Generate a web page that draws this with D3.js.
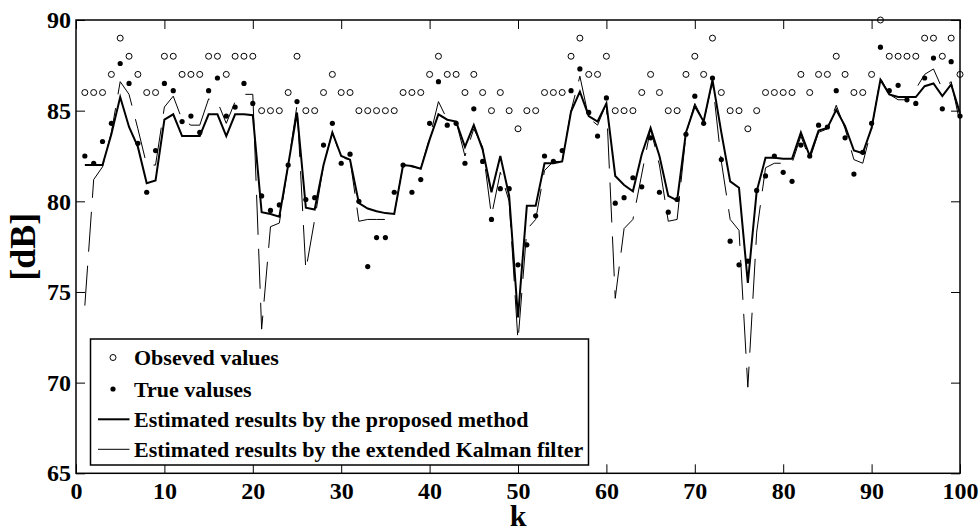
<!DOCTYPE html>
<html>
<head>
<meta charset="utf-8">
<script src="https://cdn.jsdelivr.net/npm/d3@7"></script>
<style>
  body { margin: 0; background: #fff; }
  text { font-family: "Liberation Serif", "Times New Roman", serif; font-weight: bold; }
</style>
</head>
<body>
<div id="chart"></div>
<script>
// chart data (k = 1..100)
var observed = [
  86,86,86,87,89,88,87,86,86,88,
  88,87,87,87,88,88,87,88,88,88,
  85,85,85,86,88,85,85,86,87,86,
  86,85,85,85,85,85,86,86,86,87,
  88,87,87,86,87,86,85,86,85,84,
  85,85,86,86,86,88,89,87,87,88,
  85,85,85,86,87,86,85,85,87,88,
  87,89,86,85,85,84,85,86,86,86,
  86,87,86,87,87,88,87,86,86,87,
  90,88,88,88,88,89,89,88,89,87];

var truth = [
  82.5,82.1,83.3,84.3,87.6,86.5,83.2,80.5,82.8,86.5,
  86.1,84.4,84.7,83.8,86.1,86.8,84.7,85.2,86.5,85.4,
  80.3,79.5,79.8,82.0,85.5,80.1,80.2,83.1,84.3,82.1,
  82.6,80.0,76.4,78.0,78.0,80.5,82.0,80.5,81.2,84.3,
  86.6,84.2,84.3,82.1,85.1,82.2,79.0,80.7,80.7,76.5,
  77.6,79.2,82.5,82.2,82.8,86.1,87.3,84.9,83.6,85.7,
  79.9,80.2,81.3,80.8,83.5,80.5,79.4,80.1,83.7,85.8,
  84.3,86.8,82.3,77.8,76.5,76.7,80.6,81.4,82.5,81.6,
  81.1,83.1,82.5,84.2,84.1,86.1,83.5,81.5,82.7,84.3,
  88.5,86.1,86.4,85.6,85.4,86.8,87.9,85.1,87.7,84.7];

var proposed = [
  82.0,82.0,82.0,83.7,85.75,84.1,83.0,81.0,81.15,84.5,
  84.8,83.6,83.6,83.6,84.8,84.8,83.6,84.8,84.8,84.75,
  79.4,79.3,79.15,82.0,84.9,79.65,79.55,82.0,83.8,82.5,
  82.3,79.9,79.6,79.45,79.35,79.3,82.0,81.95,81.8,83.4,
  84.8,84.5,84.4,83.0,84.2,82.85,80.5,82.5,80.3,73.6,
  79.75,79.75,82.1,82.1,82.2,84.95,86.05,84.7,84.4,85.4,
  81.4,80.9,80.55,82.6,84.05,82.5,80.3,80.05,83.8,85.25,
  84.4,86.7,83.8,81.1,80.75,75.5,80.55,82.4,82.4,82.35,
  82.35,83.8,82.5,83.9,84.05,85.05,84.15,82.8,82.65,84.05,
  86.7,85.9,85.75,85.75,85.75,86.35,86.5,85.8,86.45,84.85];

var ekf = [
  74.25,81.2,81.9,83.8,86.6,85.9,84.0,82.0,82.0,85.2,
  85.8,84.5,84.2,84.2,85.65,85.5,84.3,85.5,85.9,85.9,
  72.95,78.6,78.8,82.0,85.3,76.2,79.0,82.0,83.8,82.4,
  82.3,78.9,79.0,79.0,79.0,79.3,82.0,81.9,81.8,83.5,
  85.5,84.5,84.4,82.5,84.0,83.0,79.2,81.6,80.0,72.3,
  78.45,79.0,81.7,82.2,82.2,85.0,86.9,84.6,84.2,85.4,
  74.65,78.5,79.0,81.5,84.0,82.0,78.9,79.0,83.7,85.4,
  84.4,86.6,82.2,79.0,78.4,69.75,78.3,81.85,82.1,82.1,
  82.1,83.6,82.3,83.8,84.0,85.3,84.0,82.3,82.1,84.0,
  86.8,85.9,85.6,85.6,86.2,87.0,87.3,86.2,86.6,84.3];

var xTicks = [0,10,20,30,40,50,60,70,80,90,100];
var yTicks = [65,70,75,80,85,90];

var legendLabels = ["Obseved values", "True valuses",
  "Estimated results by the proposed method",
  "Estimated results by the extended Kalman filter"];

// layout
var width = 979, height = 532;
var plotL = 76, plotR = 960, plotT = 20, plotB = 473.3;

var svg = d3.select("#chart").append("svg")
  .attr("width", width).attr("height", height);

var x = d3.scaleLinear().domain([0, 100]).range([plotL, plotR]);
var y = d3.scaleLinear().domain([65, 90]).range([plotB, plotT]);

var ks = d3.range(1, 101);

// lines
var line = function(vals) {
  return d3.line()
    .x(function(d, i) { return x(ks[i]); })
    .y(function(d) { return y(d); })(vals);
};

svg.append("path")
  .attr("d", line(ekf))
  .attr("fill", "none")
  .attr("stroke", "#000")
  .attr("stroke-width", 1)
  .attr("stroke-dasharray", "40,14");

svg.append("path")
  .attr("d", line(proposed))
  .attr("fill", "none")
  .attr("stroke", "#000")
  .attr("stroke-width", 2);

// markers
svg.append("g").selectAll("circle")
  .data(observed).enter().append("circle")
  .attr("cx", function(d, i) { return x(ks[i]); })
  .attr("cy", function(d) { return y(d); })
  .attr("r", 3)
  .attr("fill", "#fff")
  .attr("stroke", "#000")
  .attr("stroke-width", 1);

svg.append("g").selectAll("circle")
  .data(truth).enter().append("circle")
  .attr("cx", function(d, i) { return x(ks[i]); })
  .attr("cy", function(d) { return y(d); })
  .attr("r", 2.6)
  .attr("fill", "#000");

// axes, ticks pointing inwards on all four sides
var fontSize = 24;

svg.append("g").attr("transform", "translate(0," + plotB + ")")
  .call(d3.axisBottom(x).tickValues(xTicks).tickSize(-9).tickSizeOuter(0).tickPadding(9));
svg.append("g").attr("transform", "translate(" + plotL + ",0)")
  .call(d3.axisLeft(y).tickValues(yTicks).tickSize(-9).tickSizeOuter(0).tickPadding(5));
svg.append("g").attr("transform", "translate(0," + plotT + ")")
  .call(d3.axisTop(x).tickValues(xTicks).tickSize(-9).tickSizeOuter(0).tickFormat(""));
svg.append("g").attr("transform", "translate(" + plotR + ",0)")
  .call(d3.axisRight(y).tickValues(yTicks).tickSize(-9).tickSizeOuter(0).tickFormat(""));

svg.selectAll(".domain").remove();
svg.selectAll(".tick line").attr("stroke", "#000").attr("stroke-width", 1);
svg.selectAll(".tick text")
  .attr("fill", "#000")
  .style("font-size", fontSize + "px")
  .style("font-family", '"Liberation Serif", "Times New Roman", serif')
  .style("font-weight", "bold");

svg.append("rect")
  .attr("x", plotL).attr("y", plotT)
  .attr("width", plotR - plotL).attr("height", plotB - plotT)
  .attr("fill", "none").attr("stroke", "#000").attr("stroke-width", 1.5);

// axis titles
svg.append("text")
  .attr("x", (plotL + plotR) / 2).attr("y", 526)
  .attr("text-anchor", "middle")
  .style("font-size", "30px")
  .text("k");

svg.append("text")
  .attr("transform", "translate(35," + (plotT + plotB) / 2 + ") rotate(-90)")
  .attr("text-anchor", "middle")
  .style("font-size", "36px")
  .text("[dB]");

// legend
var lg = svg.append("g");
lg.append("rect")
  .attr("x", 90.5).attr("y", 339)
  .attr("width", 498).attr("height", 126)
  .attr("fill", "#fff").attr("stroke", "#000").attr("stroke-width", 1.5);

var rowY = [357.5, 389, 419.3, 449.3];

lg.append("circle").attr("cx", 113).attr("cy", rowY[0]).attr("r", 3)
  .attr("fill", "#fff").attr("stroke", "#000");
lg.append("circle").attr("cx", 113).attr("cy", rowY[1]).attr("r", 2.6)
  .attr("fill", "#000");
lg.append("line").attr("x1", 98).attr("x2", 129.5).attr("y1", rowY[2]).attr("y2", rowY[2])
  .attr("stroke", "#000").attr("stroke-width", 2);
lg.append("line").attr("x1", 98).attr("x2", 129.5).attr("y1", rowY[3]).attr("y2", rowY[3])
  .attr("stroke", "#000").attr("stroke-width", 1);

lg.selectAll("text.lab")
  .data(legendLabels).enter().append("text")
  .attr("class", "lab")
  .attr("x", 134)
  .attr("y", function(d, i) { return rowY[i]; })
  .attr("dy", "0.35em")
  .style("font-size", "22px")
  .text(function(d) { return d; });
</script>
</body>
</html>
